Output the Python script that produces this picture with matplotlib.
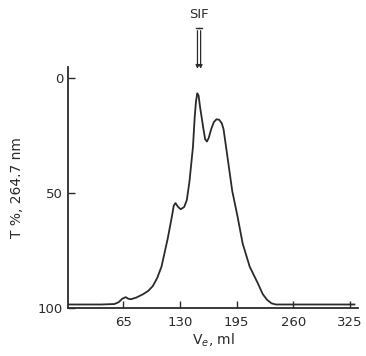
import numpy as np
import matplotlib.pyplot as plt

# elution volume (ml) and transmittance (%)
ve = [3, 20, 40, 55, 60, 64, 68, 71, 74, 80, 88, 94, 99, 104, 109, 116,
      121, 123, 125, 128, 131, 135, 138, 141, 145, 147, 148.5, 150, 151.5,
      153, 155, 157, 159, 161, 163, 166, 169, 172, 175, 178, 180, 183, 190,
      196, 202, 210, 219, 225, 230, 235, 240, 260, 290, 330]
t_pct = [98.5, 98.5, 98.5, 98.3, 97.5, 96.0, 95.3, 96.0, 96.2, 95.5, 94.0,
         92.5, 90.5, 87.0, 82.0, 70.0, 60.0, 55.5, 54.3, 56.0, 57.0, 56.0,
         53.0, 45.0, 30.0, 17.0, 10.0, 6.5, 7.5, 12.0, 17.0, 22.0, 26.5, 27.5,
         26.0, 22.0, 19.0, 17.8, 18.0, 19.5, 22.0, 30.0, 49.0, 60.0, 72.0,
         82.0, 89.0, 94.0, 96.5, 98.0, 98.5, 98.5, 98.5, 98.5]

x_ticks = [65, 130, 195, 260, 325]
y_ticks = [0, 50, 100]
sif_ve = 152

ink = "#2b2b2b"
fig = plt.figure(figsize=(3.66, 3.56), dpi=100)
ax = fig.add_axes([0.186, 0.135, 0.792, 0.677])

ax.plot(ve, t_pct, color=ink, lw=1.3)

ax.set_xlim(2, 334)
ax.set_ylim(100, -5)
ax.set_xticks(x_ticks)
ax.set_yticks(y_ticks)
ax.tick_params(direction="in", length=5, width=1, colors=ink, labelsize=9.5)
ax.tick_params(axis="x", pad=6)
for s in ["top", "right"]:
    ax.spines[s].set_visible(False)
for s in ["left", "bottom"]:
    ax.spines[s].set_color(ink)
    ax.spines[s].set_linewidth(1.3)

ax.set_xlabel("V$_e$, ml", fontsize=10, color=ink, labelpad=2)
ax.set_ylabel("T %, 264.7 nm", fontsize=10, color=ink, labelpad=10)

# SIF marker: double arrow above the main peak
for dx in (-1.8, 1.8):
    ax.annotate("", xy=(sif_ve + dx, -3), xytext=(sif_ve + dx, -22),
                arrowprops=dict(arrowstyle="-|>", color=ink, lw=0.9,
                                mutation_scale=5),
                annotation_clip=False)
    ax.plot([sif_ve + dx - 2, sif_ve + dx + 2], [-22, -22], color=ink,
            lw=1.0, clip_on=False)
ax.text(sif_ve, -25, "SIF", ha="center", va="bottom", fontsize=9.5, color=ink)

fig.savefig("out.png", dpi=100)
